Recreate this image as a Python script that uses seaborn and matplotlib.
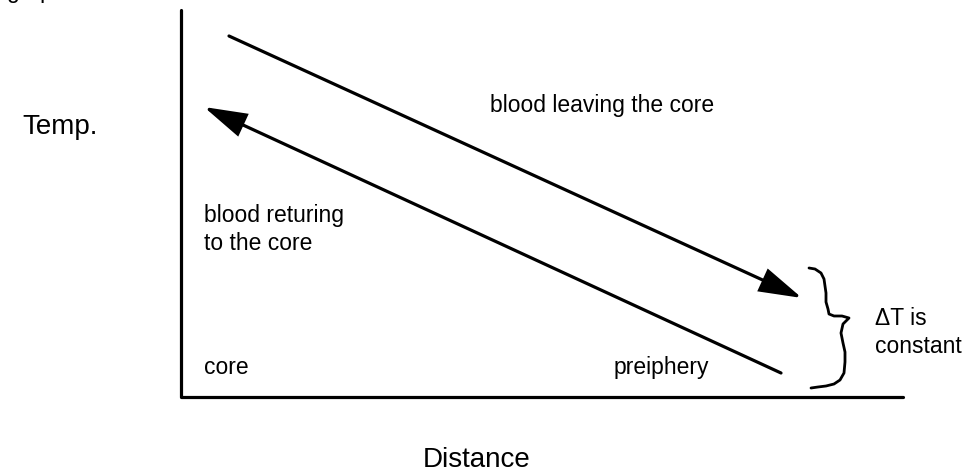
import matplotlib
matplotlib.use("Agg")
import matplotlib.pyplot as plt
from matplotlib.patches import FancyArrowPatch, ArrowStyle
import seaborn as sns
import pandas as pd

sns.set_theme(style="white")
plt.rcParams["font.family"] = ["Liberation Sans", "DejaVu Sans"]

# Frame of the sketch (pixel-like drawing units, y grows downward)
axis_x = [181, 181, 903]
axis_y = [10, 397, 397]

# Blood flow arrows: (tail, head)
leaving_tail = (229, 36)
leaving_head = (802, 298)
returning_tail = (781, 373)
returning_head = (204, 107)

# Hand-drawn brace marking the temperature gap
brace_x = [809, 815, 821, 824, 825, 826, 826, 828, 829, 834, 842, 849,
           843, 841, 843, 845, 845, 844, 840, 834, 826, 818, 811]
brace_y = [268, 269, 273, 279, 286, 293, 302, 309, 314, 316, 316, 318,
           324, 333, 343, 352, 362, 373, 380, 384, 386, 387, 388]

labels = {
    "title": "graph",
    "leaving": "blood leaving the core",
    "returning": "blood returing\nto the core",
    "core": "core",
    "periphery": "preiphery",
    "delta": "\u0394T is\nconstant",
    "ylabel": "Temp.",
    "xlabel": "Distance",
}

fig = plt.figure(figsize=(9.8, 4.73), dpi=100)
ax = fig.add_axes([0, 0, 1, 1])
ax.set_xlim(0, 980)
ax.set_ylim(473, 0)
ax.axis("off")

frame = pd.DataFrame({"x": axis_x, "y": axis_y})
sns.lineplot(data=frame, x="x", y="y", sort=False, estimator=None,
             color="black", linewidth=2.3, ax=ax)

brace = pd.DataFrame({"x": brace_x, "y": brace_y})
sns.lineplot(data=brace, x="x", y="y", sort=False, estimator=None,
             color="black", linewidth=2.0, ax=ax)

style = ArrowStyle("-|>", head_length=26, head_width=7.5)
for tail, head in [(leaving_tail, leaving_head), (returning_tail, returning_head)]:
    ax.add_patch(FancyArrowPatch(tail, head, arrowstyle=style, mutation_scale=1,
                                 color="black", linewidth=2.3,
                                 shrinkA=0, shrinkB=0, joinstyle="miter"))

ax.set_xlabel("")
ax.set_ylabel("")

small = 16.5
big = 20
ink = "black"
# caption running off the top edge; only its descenders show
ax.text(7, -2, labels["title"], fontsize=small, va="baseline", ha="left", color=ink)
ax.text(490, 112, labels["leaving"], fontsize=small, va="baseline", ha="left", color=ink)
# multi-line labels are anchored at the baseline of their last line
ax.text(204, 250, labels["returning"], fontsize=small, va="baseline", ha="left",
        linespacing=1.3, color=ink)
ax.text(204, 374, labels["core"], fontsize=small, va="baseline", ha="left", color=ink)
ax.text(614, 374, labels["periphery"], fontsize=small, va="baseline", ha="left", color=ink)
ax.text(875, 353, labels["delta"], fontsize=small, va="baseline", ha="left",
        linespacing=1.3, color=ink)
ax.text(98, 134, labels["ylabel"], fontsize=big, va="baseline", ha="right", color=ink)
ax.text(423, 467, labels["xlabel"], fontsize=big, va="baseline", ha="left", color=ink)

fig.savefig("out.png", dpi=100)
